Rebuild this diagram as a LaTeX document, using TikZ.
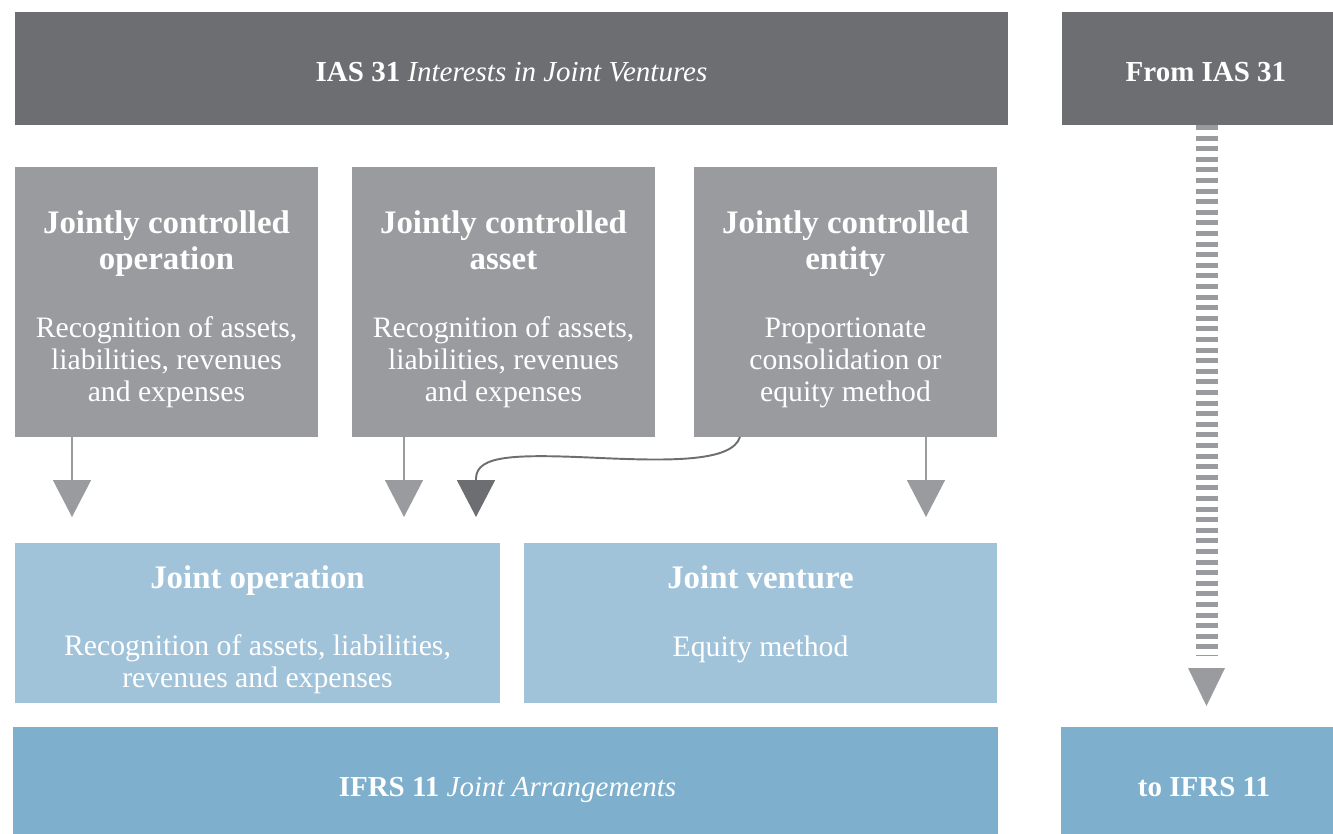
\documentclass[tikz,border=0pt]{standalone}
\usepackage{fontspec}
\setmainfont{Liberation Serif}
\usetikzlibrary{positioning,arrows.meta}
\definecolor{darkgrey}{HTML}{6D6E71}
\definecolor{midgrey}{HTML}{999B9E}
\definecolor{paleblue}{HTML}{A1C3D9}
\definecolor{deepblue}{HTML}{7EAFCC}
\newcommand\titlefont{\fontsize{16.5}{20}\selectfont}
\newcommand\headfont{\fontsize{18.7}{20.5}\selectfont\bfseries}
\newcommand\bodyfont{\fontsize{16.9}{18.3}\selectfont}
\begin{document}
\begin{tikzpicture}[x=0.02cm, y=-0.02cm, line join=round,
		box/.style 2 args={anchor=north west, inner sep=0pt, outer sep=0pt,
			minimum width=#1*0.02cm, minimum height=#2*0.02cm},
		txt/.style={text=white, align=center, inner sep=0pt},
		tri/.style={draw=midgrey, line width=0.8pt, -{Triangle[width=0.76cm,length=0.74cm]}, midgrey},
		curvearrow/.style={draw=darkgrey, line width=1.1pt, -{Triangle[width=0.76cm,length=0.74cm]}, darkgrey},
		dashbar/.style={draw=midgrey, line width=0.44cm, dash pattern=on 0.1cm off 0.112cm}]
	\useasboundingbox (0,0) rectangle (1333,834);
	
	% top row
	\node[box={993}{113}, fill=darkgrey] (ias) at (15,12) {};
	\node[box={271}{113}, fill=darkgrey] (from) at (1062,12) {};
	\node[txt, font=\titlefont] (iast) at (511.5,74.5) {\strut\textbf{IAS 31} \textit{Interests in Joint Ventures}};
	\node[txt, font=\titlefont\bfseries] (fromt) at (1206,74.5) {\strut From IAS 31};
	
	% old categories
	\node[box={303}{270}, fill=midgrey] (g1) at (15,167) {};
	\node[box={303}{270}, fill=midgrey] (g2) at (352,167) {};
	\node[box={303}{270}, fill=midgrey] (g3) at (694,167) {};
	\node[txt, font=\headfont] (g1h) at (166.5,244) {\strut Jointly controlled\\operation\strut};
	\node[txt, font=\headfont] (g2h) at (503.5,244) {\strut Jointly controlled\\asset\strut};
	\node[txt, font=\headfont] (g3h) at (845.5,244) {\strut Jointly controlled\\entity\strut};
	\node[txt, font=\bodyfont] (g1b) at (166.5,363) {\strut Recognition of assets,\\liabilities, revenues\\and expenses\strut};
	\node[txt, font=\bodyfont] (g2b) at (503.5,363) {\strut Recognition of assets,\\liabilities, revenues\\and expenses\strut};
	\node[txt, font=\bodyfont] (g3b) at (845.5,363) {\strut Proportionate\\consolidation or\\equity method\strut};
	
	% new categories
	\node[box={485}{160}, fill=paleblue] (jo) at (15,543) {};
	\node[box={473}{160}, fill=paleblue] (jv) at (524,543) {};
	\node[txt, font=\headfont] (joh) at (257.5,581) {\strut Joint operation};
	\node[txt, font=\headfont] (jvh) at (760.5,581) {\strut Joint venture};
	\node[txt, font=\bodyfont] (job) at (257.5,665) {\strut Recognition of assets, liabilities,\\revenues and expenses\strut};
	\node[txt, font=\bodyfont] (jvb) at (760.5,650) {\strut Equity method};
	
	% bottom row
	\node[box={985}{107}, fill=deepblue] (ifrs) at (13,727) {};
	\node[box={272}{107}, fill=deepblue] (to) at (1061,727) {};
	\node[txt, font=\titlefont] (ifrst) at (507.5,789.5) {\strut\textbf{IFRS 11} \textit{Joint Arrangements}};
	\node[txt, font=\titlefont\bfseries] (tot) at (1204,789.5) {\strut to IFRS 11};
	
	% arrows
	\coordinate (a1) at (72,517);
	\coordinate (a2) at (404,517);
	\coordinate (a3) at (476,517);
	\coordinate (a4) at (926,517);
	\draw[tri] (g1.south -| a1) -- (a1);
	\draw[tri] (g2.south -| a2) -- (a2);
	\draw[tri] (g3.south -| a4) -- (a4);
	\draw[curvearrow] ([xshift=0.92cm]g3.south west) .. controls (732,462) and (670,461) .. (600,458)
		.. controls (515,454) and (477,455) .. (476,478) -- (a3);
	
	% from / to
	\coordinate (d1) at (1207,656);
	\draw[dashbar] (from.south -| d1) -- (d1);
	\fill[midgrey] (1188,668) -- (1225,668) -- (1206.5,706) -- cycle;
\end{tikzpicture}
\end{document}
